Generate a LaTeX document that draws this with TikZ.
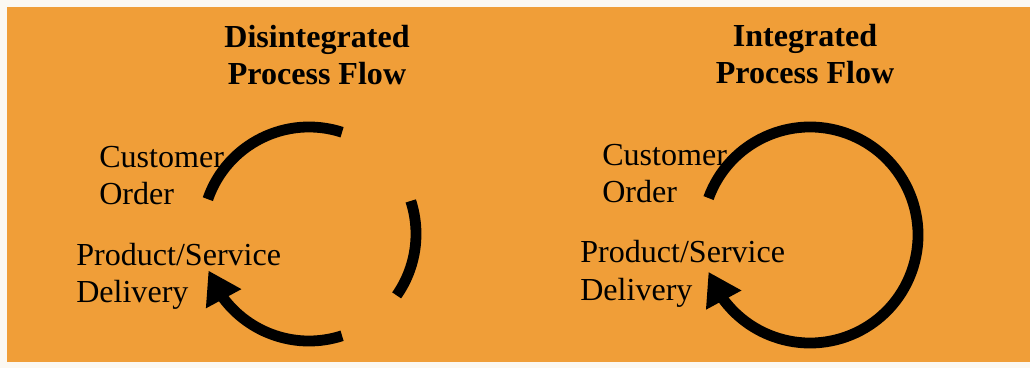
\documentclass[tikz,border=0pt]{standalone}
\usepackage{fontspec}
\setmainfont{Liberation Serif}
\usetikzlibrary{arrows.meta, bending}
\definecolor{SlideOrange}{HTML}{F09E38}
\definecolor{PaperWhite}{HTML}{FBF8F2}
\tikzset{
  titletext/.style={align=center, inner sep=0pt, anchor=base, font=\fontsize{22.8}{26.5}\selectfont\bfseries},
  steptext/.style={align=left, inner sep=0pt, anchor=base west, font=\fontsize{22.8}{26.5}\selectfont},
  flowarc/.style={line width=0.27cm, draw=black},
  flowarrow/.style={flowarc, -{Triangle[length=0.8cm, width=0.95cm, flex]}}
}
\begin{document}
\begin{tikzpicture}[x=0.025cm, y=0.025cm]
\useasboundingbox (0,0) rectangle (1030,368);
\fill[PaperWhite] (0,0) rectangle (1030,368);
\fill[SlideOrange] (7,6) rectangle (1030,361);

% titles
\node[titletext] (ltitle) at (317,283) {Disintegrated\\Process Flow};
\node[titletext] (rtitle) at (805,284) {Integrated\\Process Flow};

% left: broken loop
\node[steptext] (lorder) at (99,163) {Customer\\Order};
\node[steptext] (ldeliv) at (76,65) {Product/Service\\Delivery};
\coordinate (lc) at (309,134);
\draw[flowarc] ([shift={(72:107)}]lc) arc[start angle=72, end angle=161, radius=107];
\draw[flowarc] ([shift={(18:107)}]lc) arc[start angle=18, end angle=-35, radius=107];
\draw[flowarrow] ([shift={(-72:107)}]lc) arc[start angle=-72, end angle=-160, radius=107];

% right: closed loop
\node[steptext] (rorder) at (602,165) {Customer\\Order};
\node[steptext] (rdeliv) at (580,68) {Product/Service\\Delivery};
\coordinate (rc) at (810,133);
\draw[flowarrow] ([shift={(160:108)}]rc) arc[start angle=160, end angle=-160, radius=108];
\end{tikzpicture}
\end{document}
